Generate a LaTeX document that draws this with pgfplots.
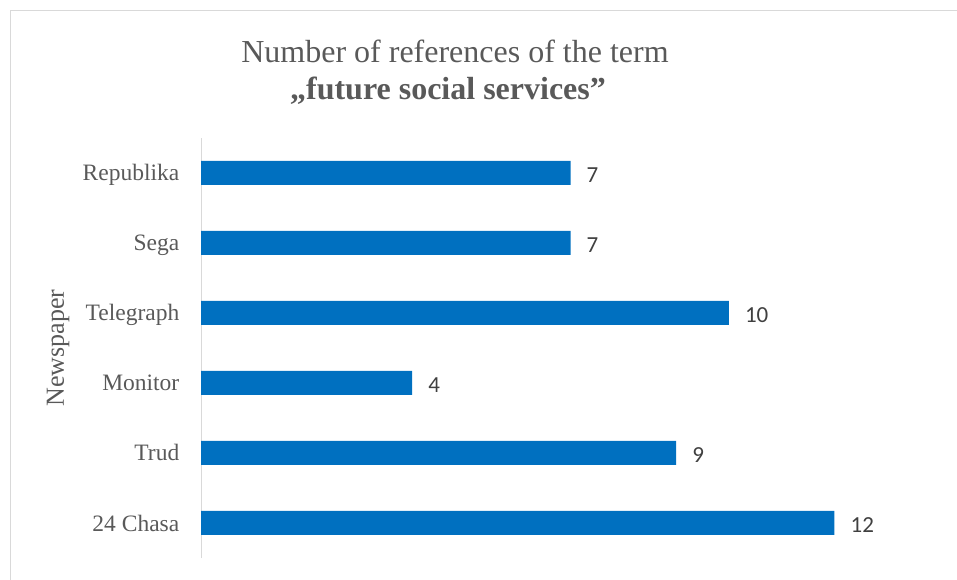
\documentclass[border=0pt]{standalone}
\usepackage{pgfplots}
\pgfplotsset{compat=1.18}
\usepackage{fontspec}
\setmainfont{Liberation Serif}
\newfontfamily\calibri{Carlito}
\definecolor{barblue}{HTML}{0070C0}
\definecolor{ticktext}{HTML}{595959}
\definecolor{valtext}{HTML}{404040}
\definecolor{frame}{HTML}{D9D9D9}
\begin{document}
\begin{tikzpicture}
\path[use as bounding box] (0,0) rectangle (957bp,580bp);
\draw[frame, line width=1bp] (10bp,0bp) -- (10bp,569bp) -- (957bp,569bp);
\node[anchor=base, text=ticktext, inner sep=0pt, font=\fontsize{32bp}{36bp}\selectfont] at (455bp,517bp) {Number of references of the term};
\node[anchor=base, text=ticktext, inner sep=0pt, font=\fontsize{32bp}{36bp}\selectfont\bfseries] at (448bp,480bp) {„future social services”};
\begin{axis}[
  at={(201bp,22bp)}, anchor=south west,
  scale only axis, width=729bp, height=420bp,
  xbar, bar width=24bp,
  xmin=0, xmax=13.81, ymin=-0.5, ymax=5.5,
  axis x line=none, xtick=\empty,
  axis y line*=left,
  y axis line style={frame, line width=1bp, -},
  ytick={0,1,2,3,4,5},
  yticklabels={24 Chasa, Trud, Monitor, Telegraph, Sega, Republika},
  major tick length=0pt,
  yticklabel style={font=\fontsize{23.5bp}{28bp}\selectfont, text=ticktext, inner sep=0pt, anchor=base east, xshift=-21.5bp, yshift=-8bp},
  ylabel={Newspaper},
  ylabel style={at={(axis description cs:-0.196,0.5)}, anchor=center, rotate=0, font=\fontsize{26bp}{30bp}\selectfont, text=ticktext},
  /pgf/number format/assume math mode=true,
  nodes near coords,
  every node near coord/.append style={font=\calibri\fontsize{23bp}{27bp}\selectfont, text=valtext, anchor=base west, inner sep=0pt, xshift=16bp, yshift=-9.5bp},
  clip=false,
]
\addplot[fill=barblue, draw=none] coordinates {(12,0) (9,1) (4,2) (10,3) (7,4) (7,5)};
\end{axis}
\end{tikzpicture}
\end{document}
